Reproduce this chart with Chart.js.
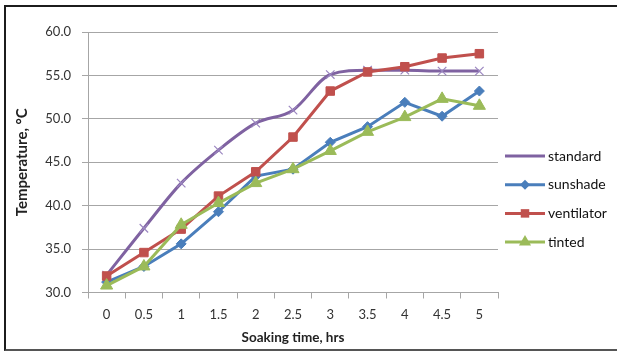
<!DOCTYPE html>
<html>
<head>
<meta charset="utf-8">
<script src="https://cdn.jsdelivr.net/npm/chart.js@4/dist/chart.umd.min.js"></script>
<style>
  html, body { margin: 0; padding: 0; background: #fff; }
  #wrap { position: relative; width: 617px; height: 351px; overflow: hidden; }
  #frame { position: absolute; left: 4px; top: 5px; width: 700px; height: 346px;
           box-sizing: border-box; border: 2px solid #1c1c1c; border-bottom-color: #555; pointer-events: none; }
  canvas { position: absolute; left: 0; top: 0; }
</style>
</head>
<body>
<div id="wrap">
  <canvas id="chart" width="617" height="351"></canvas>
  <div id="frame"></div>
</div>
<script>
const hours = ["0", "0.5", "1", "1.5", "2", "2.5", "3", "3.5", "4", "4.5", "5"];
const standard = [32.0, 37.4, 42.6, 46.4, 49.5, 51.0, 55.1, 55.6, 55.6, 55.5, 55.5];
const sunshade = [31.2, 33.0, 35.6, 39.3, 43.4, 44.2, 47.3, 49.1, 51.9, 50.3, 53.2];
const ventilator = [31.9, 34.6, 37.3, 41.1, 43.9, 47.9, 53.2, 55.4, 56.0, 57.0, 57.5];
const tinted = [30.8, 33.0, 37.8, 40.3, 42.6, 44.2, 46.3, 48.5, 50.2, 52.3, 51.5];
const yTicks = [30, 35, 40, 45, 50, 55, 60];

const font = "Lato, 'Liberation Sans', sans-serif";
const gray = "#a6a6a6";

// legend drawn by hand: line with marker in the middle, like the original
const sideLegend = {
  id: "sideLegend",
  afterDraw(chart) {
    const ctx = chart.ctx;
    chart.data.datasets.forEach((ds, i) => {
      const y = 156 + i * 28.7;
      ctx.save();
      ctx.strokeStyle = ds.borderColor;
      ctx.lineWidth = 3;
      ctx.beginPath();
      ctx.moveTo(505, y);
      ctx.lineTo(545, y);
      ctx.stroke();
      ctx.fillStyle = ds.pointBackgroundColor;
      ctx.strokeStyle = ds.pointBorderColor;
      ctx.lineWidth = ds.pointBorderWidth;
      Chart.helpers.drawPoint(ctx, { pointStyle: ds.pointStyle, radius: ds.pointRadius, rotation: 0 }, 525, y);
      ctx.fillStyle = "#111";
      ctx.font = "14px " + font;
      ctx.textBaseline = "middle";
      ctx.fillText(ds.label, 548, y);
      ctx.restore();
    });
  }
};

new Chart(document.getElementById("chart"), {
  type: "line",
  data: {
    labels: hours,
    datasets: [
      {
        label: "standard", data: standard, order: 4,
        borderColor: "#7f62a1", borderWidth: 3, cubicInterpolationMode: "monotone",
        pointStyle: "crossRot", pointRadius: 6,
        pointBorderColor: "#9b86c0", pointBackgroundColor: "#9b86c0", pointBorderWidth: 1.2
      },
      {
        label: "sunshade", data: sunshade, order: 3,
        borderColor: "#4a7ebb", borderWidth: 3, tension: 0,
        pointStyle: "rectRot", pointRadius: 5,
        pointBorderColor: "#4a7ebb", pointBackgroundColor: "#4a7ebb", pointBorderWidth: 1
      },
      {
        label: "ventilator", data: ventilator, order: 2,
        borderColor: "#c0504d", borderWidth: 3, tension: 0,
        pointStyle: "rect", pointRadius: 6,
        pointBorderColor: "#c0504d", pointBackgroundColor: "#c0504d", pointBorderWidth: 1
      },
      {
        label: "tinted", data: tinted, order: 1,
        borderColor: "#9bbb59", borderWidth: 3, tension: 0,
        pointStyle: "triangle", pointRadius: 7,
        pointBorderColor: "#9bbb59", pointBackgroundColor: "#9bbb59", pointBorderWidth: 1
      }
    ]
  },
  options: {
    responsive: false,
    animation: false,
    events: [],
    layout: { padding: { left: 0, top: 32, right: 119, bottom: 0 } },
    plugins: { legend: { display: false }, tooltip: { enabled: false } },
    scales: {
      x: {
        type: "category",
        offset: true,
        afterFit: (s) => { s.height = 58.5; },
        grid: { offset: true, drawOnChartArea: false, drawTicks: true, tickLength: 6, color: gray },
        border: { color: gray, width: 1 },
        ticks: { color: "#333", font: { family: font, size: 13 }, padding: 9, maxRotation: 0, autoSkip: false },
        title: { display: true, text: "Soaking time, hrs", color: "#222",
                 font: { family: font, size: 13.5, weight: "bold" }, padding: { top: 0, bottom: 5 } }
      },
      y: {
        min: 30, max: 60,
        afterFit: (s) => { s.width = 88; },
        afterBuildTicks: (s) => { s.ticks = yTicks.map((v) => ({ value: v })); },
        grid: { drawTicks: true, tickLength: 6, color: gray },
        border: { color: gray, width: 1 },
        ticks: { color: "#333", font: { family: font, size: 13 }, padding: 11,
                 callback: (v) => Number(v).toFixed(1) },
        title: { display: true, text: "Temperature, °C", color: "#222",
                 font: { family: font, size: 15, weight: "bold" }, padding: { top: 13, bottom: 0 } }
      }
    }
  },
  plugins: [sideLegend]
});
</script>
</body>
</html>
